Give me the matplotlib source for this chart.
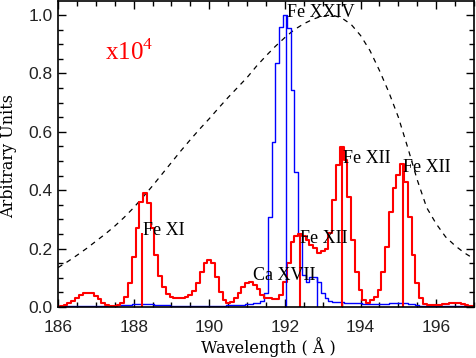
import numpy as np
import matplotlib
matplotlib.use("Agg")
import matplotlib.pyplot as plt
from matplotlib.ticker import MultipleLocator

# bin centres of both spectra (0.1 A)
wave = np.round(np.arange(186.0, 197.05, 0.1), 2)

red_flux = [0.001, 0.003, 0.008, 0.013, 0.021, 0.031, 0.040, 0.047, 0.049, 0.047,
            0.038, 0.026, 0.015, 0.008, 0.003, 0.003, 0.007, 0.015, 0.033, 0.081,
            0.170, 0.269, 0.361, 0.389, 0.355, 0.269, 0.178, 0.106, 0.067, 0.045,
            0.033, 0.030, 0.030, 0.031, 0.035, 0.041, 0.056, 0.083, 0.121, 0.150,
            0.161, 0.150, 0.104, 0.053, 0.024, 0.015, 0.018, 0.032, 0.047, 0.067,
            0.081, 0.087, 0.075, 0.061, 0.041, 0.032, 0.030, 0.029, 0.026, 0.040,
            0.085, 0.150, 0.222, 0.243, 0.250, 0.243, 0.230, 0.212, 0.201, 0.186,
            0.192, 0.200, 0.252, 0.365, 0.487, 0.547, 0.503, 0.378, 0.229, 0.121,
            0.058, 0.024, 0.015, 0.024, 0.033, 0.058, 0.121, 0.207, 0.326, 0.406,
            0.452, 0.490, 0.429, 0.309, 0.178, 0.081, 0.030, 0.010, 0.007, 0.006,
            0.006, 0.007, 0.009, 0.011, 0.013, 0.014, 0.013, 0.011, 0.008, 0.005,
            0.004]

blue_flux = [0.002, 0.002, 0.003, 0.003, 0.004, 0.004, 0.004, 0.005, 0.005, 0.005,
             0.005, 0.005, 0.005, 0.005, 0.005, 0.005, 0.006, 0.006, 0.007, 0.008,
             0.009, 0.010, 0.010, 0.010, 0.010, 0.009, 0.008, 0.007, 0.006, 0.006,
             0.005, 0.005, 0.005, 0.005, 0.005, 0.005, 0.005, 0.005, 0.005, 0.005,
             0.005, 0.005, 0.005, 0.005, 0.005, 0.006, 0.006, 0.007, 0.007, 0.008,
             0.009, 0.010, 0.012, 0.015, 0.020, 0.047, 0.309, 0.566, 0.837, 0.960,
             1.000, 0.954, 0.743, 0.463, 0.247, 0.110, 0.087, 0.104, 0.104, 0.085,
             0.047, 0.030, 0.022, 0.018, 0.017, 0.016, 0.015, 0.014, 0.013, 0.012,
             0.012, 0.011, 0.010, 0.010, 0.010, 0.010, 0.010, 0.011, 0.012, 0.013,
             0.014, 0.014, 0.013, 0.011, 0.009, 0.007, 0.005, 0.005, 0.004, 0.004,
             0.004, 0.004, 0.004, 0.004, 0.004, 0.004, 0.003, 0.003, 0.003, 0.003,
             0.003]

# response curve (dashed)
resp_wave = [186.0, 186.25, 186.5, 186.75, 187.0, 187.25, 187.5, 187.75, 188.0,
             188.25, 188.5, 188.75, 189.0, 189.25, 189.5, 189.75, 190.0, 190.25,
             190.5, 190.75, 191.0, 191.25, 191.5, 191.75, 192.0, 192.25, 192.5,
             192.75, 193.0, 193.25, 193.5, 193.75, 194.0, 194.25, 194.5, 194.75,
             195.0, 195.25, 195.5, 195.75, 196.0, 196.25, 196.5, 196.75, 197.0]
resp_val = [0.135, 0.155, 0.177, 0.200, 0.225, 0.250, 0.277, 0.307, 0.340,
            0.377, 0.415, 0.455, 0.495, 0.535, 0.573, 0.610, 0.645, 0.682,
            0.718, 0.752, 0.786, 0.825, 0.860, 0.893, 0.923, 0.950, 0.970,
            0.986, 0.997, 1.000, 0.990, 0.968, 0.930, 0.878, 0.810, 0.735,
            0.650, 0.545, 0.435, 0.340, 0.285, 0.240, 0.210, 0.185, 0.165]

# line markers
red_lines = [188.22, 192.39, 193.51, 195.12]
red_heights = [0.252, 0.247, 0.546, 0.488]
blue_lines = [192.03, 192.85]
blue_heights = [1.0, 0.104]

labels = ["Fe XI", "Fe XXIV", "Fe XII", "Ca XVII", "Fe XII", "Fe XII"]
label_x = [188.25, 192.05, 192.41, 192.80, 193.53, 195.12]
label_y = [0.247, 0.993, 0.218, 0.094, 0.492, 0.464]
label_ha = ["left", "left", "left", "right", "left", "left"]

fig = plt.figure(figsize=(4.76, 3.58), dpi=100)
ax = fig.add_axes([58 / 476, 51 / 358, 416 / 476, 306 / 358])

ax.plot(resp_wave, resp_val, color="black", lw=0.9, ls=(0, (4, 4)))
ax.step(wave, blue_flux, where="mid", color="blue", lw=1.0)
ax.step(wave, red_flux, where="mid", color="red", lw=1.5)
ax.vlines(red_lines, 0, red_heights, color="red", lw=1.5)
ax.vlines(blue_lines, 0, blue_heights, color="blue", lw=1.0)

for s, x, y, ha in zip(labels, label_x, label_y, label_ha):
    ax.text(x, y, s, ha=ha, va="baseline", fontsize=13,
            family="Liberation Serif", color="black")

plt.rcParams["mathtext.fontset"] = "custom"
plt.rcParams["mathtext.rm"] = "Liberation Serif"
ax.text(187.24, 0.846, r"x10$^\mathrm{4}$", color="red", fontsize=18,
        family="Liberation Serif", va="baseline")

ax.set_xlim(186, 197)
ax.set_ylim(0, 1.048)
ax.xaxis.set_major_locator(MultipleLocator(2))
ax.xaxis.set_minor_locator(MultipleLocator(0.5))
ax.yaxis.set_major_locator(MultipleLocator(0.2))
ax.yaxis.set_minor_locator(MultipleLocator(0.05))
ax.tick_params(which="both", direction="in", top=True, right=True, width=1)
ax.tick_params(which="major", length=6)
ax.tick_params(which="minor", length=3.5)
ax.tick_params(axis="x", pad=9)
ax.tick_params(axis="y", pad=4)
for lab in ax.get_xticklabels() + ax.get_yticklabels():
    lab.set_family("Liberation Sans")
    lab.set_fontsize(12.5)
    lab.set_color("#222222")
for sp in ax.spines.values():
    sp.set_linewidth(1.2)

fig.text(268 / 476, 1 - 347 / 358, "Wavelength ( Å )", ha="center", va="center",
         family="DejaVu Serif", fontsize=11.5)
fig.text(9 / 476, 1 - 156 / 358, "Arbitrary Units", ha="center", va="center",
         rotation=90, family="DejaVu Serif", fontsize=11.5)

fig.savefig("out.png", dpi=100)
